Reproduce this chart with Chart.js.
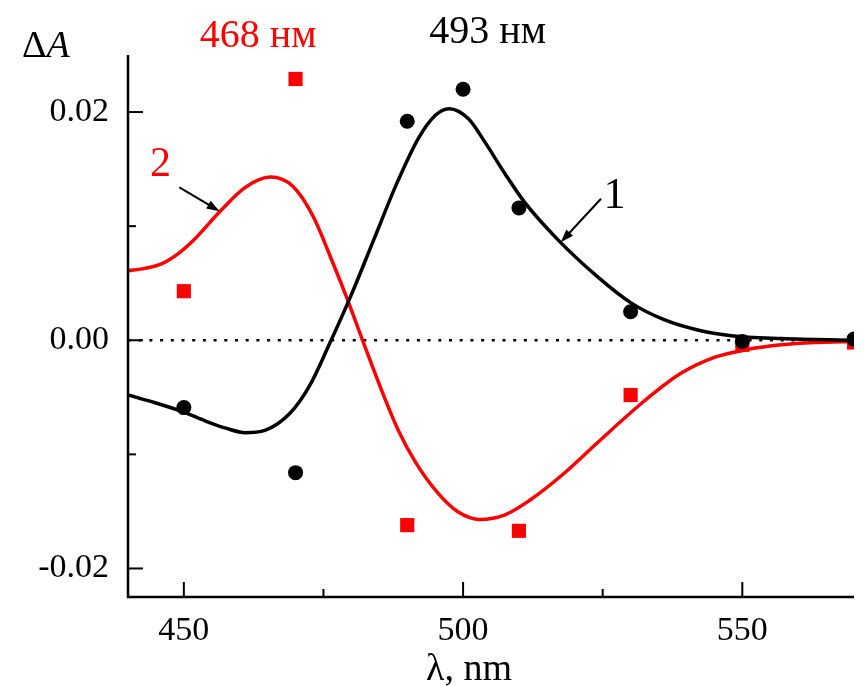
<!DOCTYPE html>
<html>
<head>
<meta charset="utf-8">
<script src="https://cdn.jsdelivr.net/npm/chart.js@4/dist/chart.umd.min.js"></script>
<style>
  body { margin: 0; background: #fff; }
  #wrap { width: 864px; height: 686px; }
</style>
</head>
<body>
<div id="wrap"><canvas id="chart" width="864" height="686"></canvas></div>
<script>
// measured points, curve 1 (black) and curve 2 (red)
const pointWl1 = [450, 470, 490, 500, 510, 530, 550, 570];
const dA1 = [-0.0059, -0.0116, 0.0192, 0.0220, 0.0116, 0.0025, -0.0001, 0.0001];
const pointWl2 = [450, 470, 490, 510, 530, 550, 570];
const dA2 = [0.0043, 0.0229, -0.0162, -0.0167, -0.0048, -0.0004, -0.0002];

// fitted curves
const fit1Wl = [440, 445, 450, 454, 457.5, 461, 464.5, 469, 472.5, 476, 480, 484, 488, 492, 495, 497.5, 501, 504, 507.5, 511, 517, 524, 530, 536, 542, 548, 557, 570];
const fit1Val = [-0.0048, -0.0055, -0.0063, -0.0071, -0.0077, -0.0081, -0.0079, -0.0064, -0.0040, -0.0004, 0.0040, 0.0088, 0.0136, 0.0177, 0.0197, 0.0203, 0.0194, 0.0173, 0.0146, 0.0121, 0.0088, 0.0056, 0.0033, 0.0018, 0.0009, 0.0004, 0.00015, 0.0];
const fit2Wl = [440, 443, 446, 449, 452, 456.5, 461, 465.5, 469.5, 473, 477, 479.2, 482, 485.5, 488.5, 491.5, 495.5, 499, 503, 507.5, 512, 518, 524, 532.5, 539, 545, 551, 557, 563, 570];
const fit2Val = [0.0061, 0.0063, 0.0067, 0.0076, 0.0089, 0.0113, 0.0134, 0.0143, 0.0135, 0.0110, 0.0064, 0.0037, 0.0000, -0.0045, -0.0080, -0.0107, -0.0134, -0.0150, -0.0157, -0.0153, -0.0140, -0.0117, -0.0090, -0.0053, -0.0029, -0.0015, -0.0008, -0.0004, -0.0002, -0.0001];

// axis ticks
const xMajor = [450, 500, 550];
const xMinor = [475, 525];
const yMajor = [-0.02, 0, 0.02];
const yMinor = [-0.01, 0.01];

const SERIF = "'Liberation Serif', 'Times New Roman', serif";
const RED = "#ff0000";

const toXY = (xs, ys) => xs.map((x, i) => ({ x: x, y: ys[i] }));

// axis lines with inward ticks + text annotations
const decorPlugin = {
  id: "decor",
  afterDatasetsDraw(chart) {
    const { ctx, chartArea: a, scales: { x, y } } = chart;
    ctx.save();
    ctx.strokeStyle = "#000";
    ctx.lineWidth = 2.5;
    ctx.beginPath();
    ctx.moveTo(a.left, a.top);
    ctx.lineTo(a.left, a.bottom);
    ctx.lineTo(a.right, a.bottom);
    ctx.stroke();

    ctx.lineWidth = 2;
    const tick = (x0, y0, x1, y1) => { ctx.beginPath(); ctx.moveTo(x0, y0); ctx.lineTo(x1, y1); ctx.stroke(); };
    xMajor.forEach(v => { const p = x.getPixelForValue(v); tick(p, a.bottom, p, a.bottom - 15); });
    xMinor.forEach(v => { const p = x.getPixelForValue(v); tick(p, a.bottom, p, a.bottom - 8); });
    yMajor.forEach(v => { const p = y.getPixelForValue(v); tick(a.left, p, a.left + 15, p); });
    yMinor.forEach(v => { const p = y.getPixelForValue(v); tick(a.left, p, a.left + 8, p); });

    // arrows pointing at the curves
    const arrow = (x0, y0, x1, y1, color) => {
      const px0 = x.getPixelForValue(x0), py0 = y.getPixelForValue(y0);
      const px1 = x.getPixelForValue(x1), py1 = y.getPixelForValue(y1);
      const ang = Math.atan2(py1 - py0, px1 - px0);
      ctx.strokeStyle = color; ctx.fillStyle = color; ctx.lineWidth = 2;
      ctx.beginPath(); ctx.moveTo(px0, py0);
      ctx.lineTo(px1 - 8 * Math.cos(ang), py1 - 8 * Math.sin(ang)); ctx.stroke();
      ctx.beginPath();
      ctx.moveTo(px1, py1);
      ctx.lineTo(px1 - 13 * Math.cos(ang) + 4.5 * Math.sin(ang), py1 - 13 * Math.sin(ang) - 4.5 * Math.cos(ang));
      ctx.lineTo(px1 - 13 * Math.cos(ang) - 4.5 * Math.sin(ang), py1 - 13 * Math.sin(ang) + 4.5 * Math.cos(ang));
      ctx.closePath(); ctx.fill();
    };
    arrow(449.2, 0.0134, 456.4, 0.0113, "#000");
    arrow(524.7, 0.0124, 517.5, 0.0086, "#000");

    ctx.textBaseline = "alphabetic";
    ctx.textAlign = "center";
    ctx.fillStyle = RED;
    ctx.font = "42px " + SERIF;
    ctx.fillText("2", x.getPixelForValue(445.8), y.getPixelForValue(0.0144));
    ctx.font = "40px " + SERIF;
    ctx.fillText("468 нм", x.getPixelForValue(463.3), a.top - 8);
    ctx.fillStyle = "#000";
    ctx.fillText("493 нм", x.getPixelForValue(504.4), a.top - 12);
    ctx.font = "44px " + SERIF;
    ctx.fillText("1", x.getPixelForValue(527.1), y.getPixelForValue(0.0116));

    // axis titles
    ctx.font = "38px " + SERIF;
    ctx.fillText("λ, nm", 469, 680);
    ctx.textAlign = "left";
    ctx.fillText("Δ", 22, 57);
    const dw = ctx.measureText("Δ").width;
    ctx.font = "italic 38px " + SERIF;
    ctx.fillText("A", 22 + dw, 57);
    ctx.restore();
  }
};

new Chart(document.getElementById("chart"), {
  type: "scatter",
  data: {
    datasets: [
      {
        data: toXY(pointWl1, dA1),
        pointStyle: "circle", pointRadius: 7.5, pointHoverRadius: 7.5,
        backgroundColor: "#000", borderWidth: 0, order: 0
      },
      {
        data: toXY(pointWl2, dA2),
        pointStyle: "rect", pointRadius: 10, pointHoverRadius: 10,
        backgroundColor: RED, borderWidth: 0, order: 1
      },
      {
        data: toXY(fit1Wl, fit1Val),
        showLine: true, pointRadius: 0, borderColor: "#000", borderWidth: 3.5,
        cubicInterpolationMode: "monotone", order: 2
      },
      {
        data: toXY(fit2Wl, fit2Val),
        showLine: true, pointRadius: 0, borderColor: RED, borderWidth: 3.5,
        cubicInterpolationMode: "monotone", order: 3
      },
      {
        data: toXY([440, 570], [0, 0]),
        showLine: true, pointRadius: 0, borderColor: "#000", borderWidth: 2.5,
        borderDash: [3, 7.7], order: 4
      }
    ]
  },
  options: {
    responsive: false,
    animation: false,
    events: [],
    layout: { padding: { top: 55, right: 7, left: 0, bottom: 0 } },
    plugins: { legend: { display: false }, tooltip: { enabled: false } },
    scales: {
      x: {
        type: "linear", min: 440, max: 570,
        grid: { display: false, drawTicks: false }, border: { display: false },
        afterBuildTicks: s => { s.ticks = xMajor.map(v => ({ value: v })); },
        afterFit: s => { s.height = 89; },
        ticks: { color: "#000", padding: 14, maxRotation: 0, font: { family: SERIF, size: 34 } }
      },
      y: {
        min: -0.0225, max: 0.025,
        grid: { display: false, drawTicks: false }, border: { display: false },
        afterBuildTicks: s => { s.ticks = yMajor.map(v => ({ value: v })); },
        afterFit: s => { s.width = 128; },
        ticks: { color: "#000", padding: 19, font: { family: SERIF, size: 34 }, callback: v => v.toFixed(2) }
      }
    }
  },
  plugins: [decorPlugin]
});
</script>
</body>
</html>
